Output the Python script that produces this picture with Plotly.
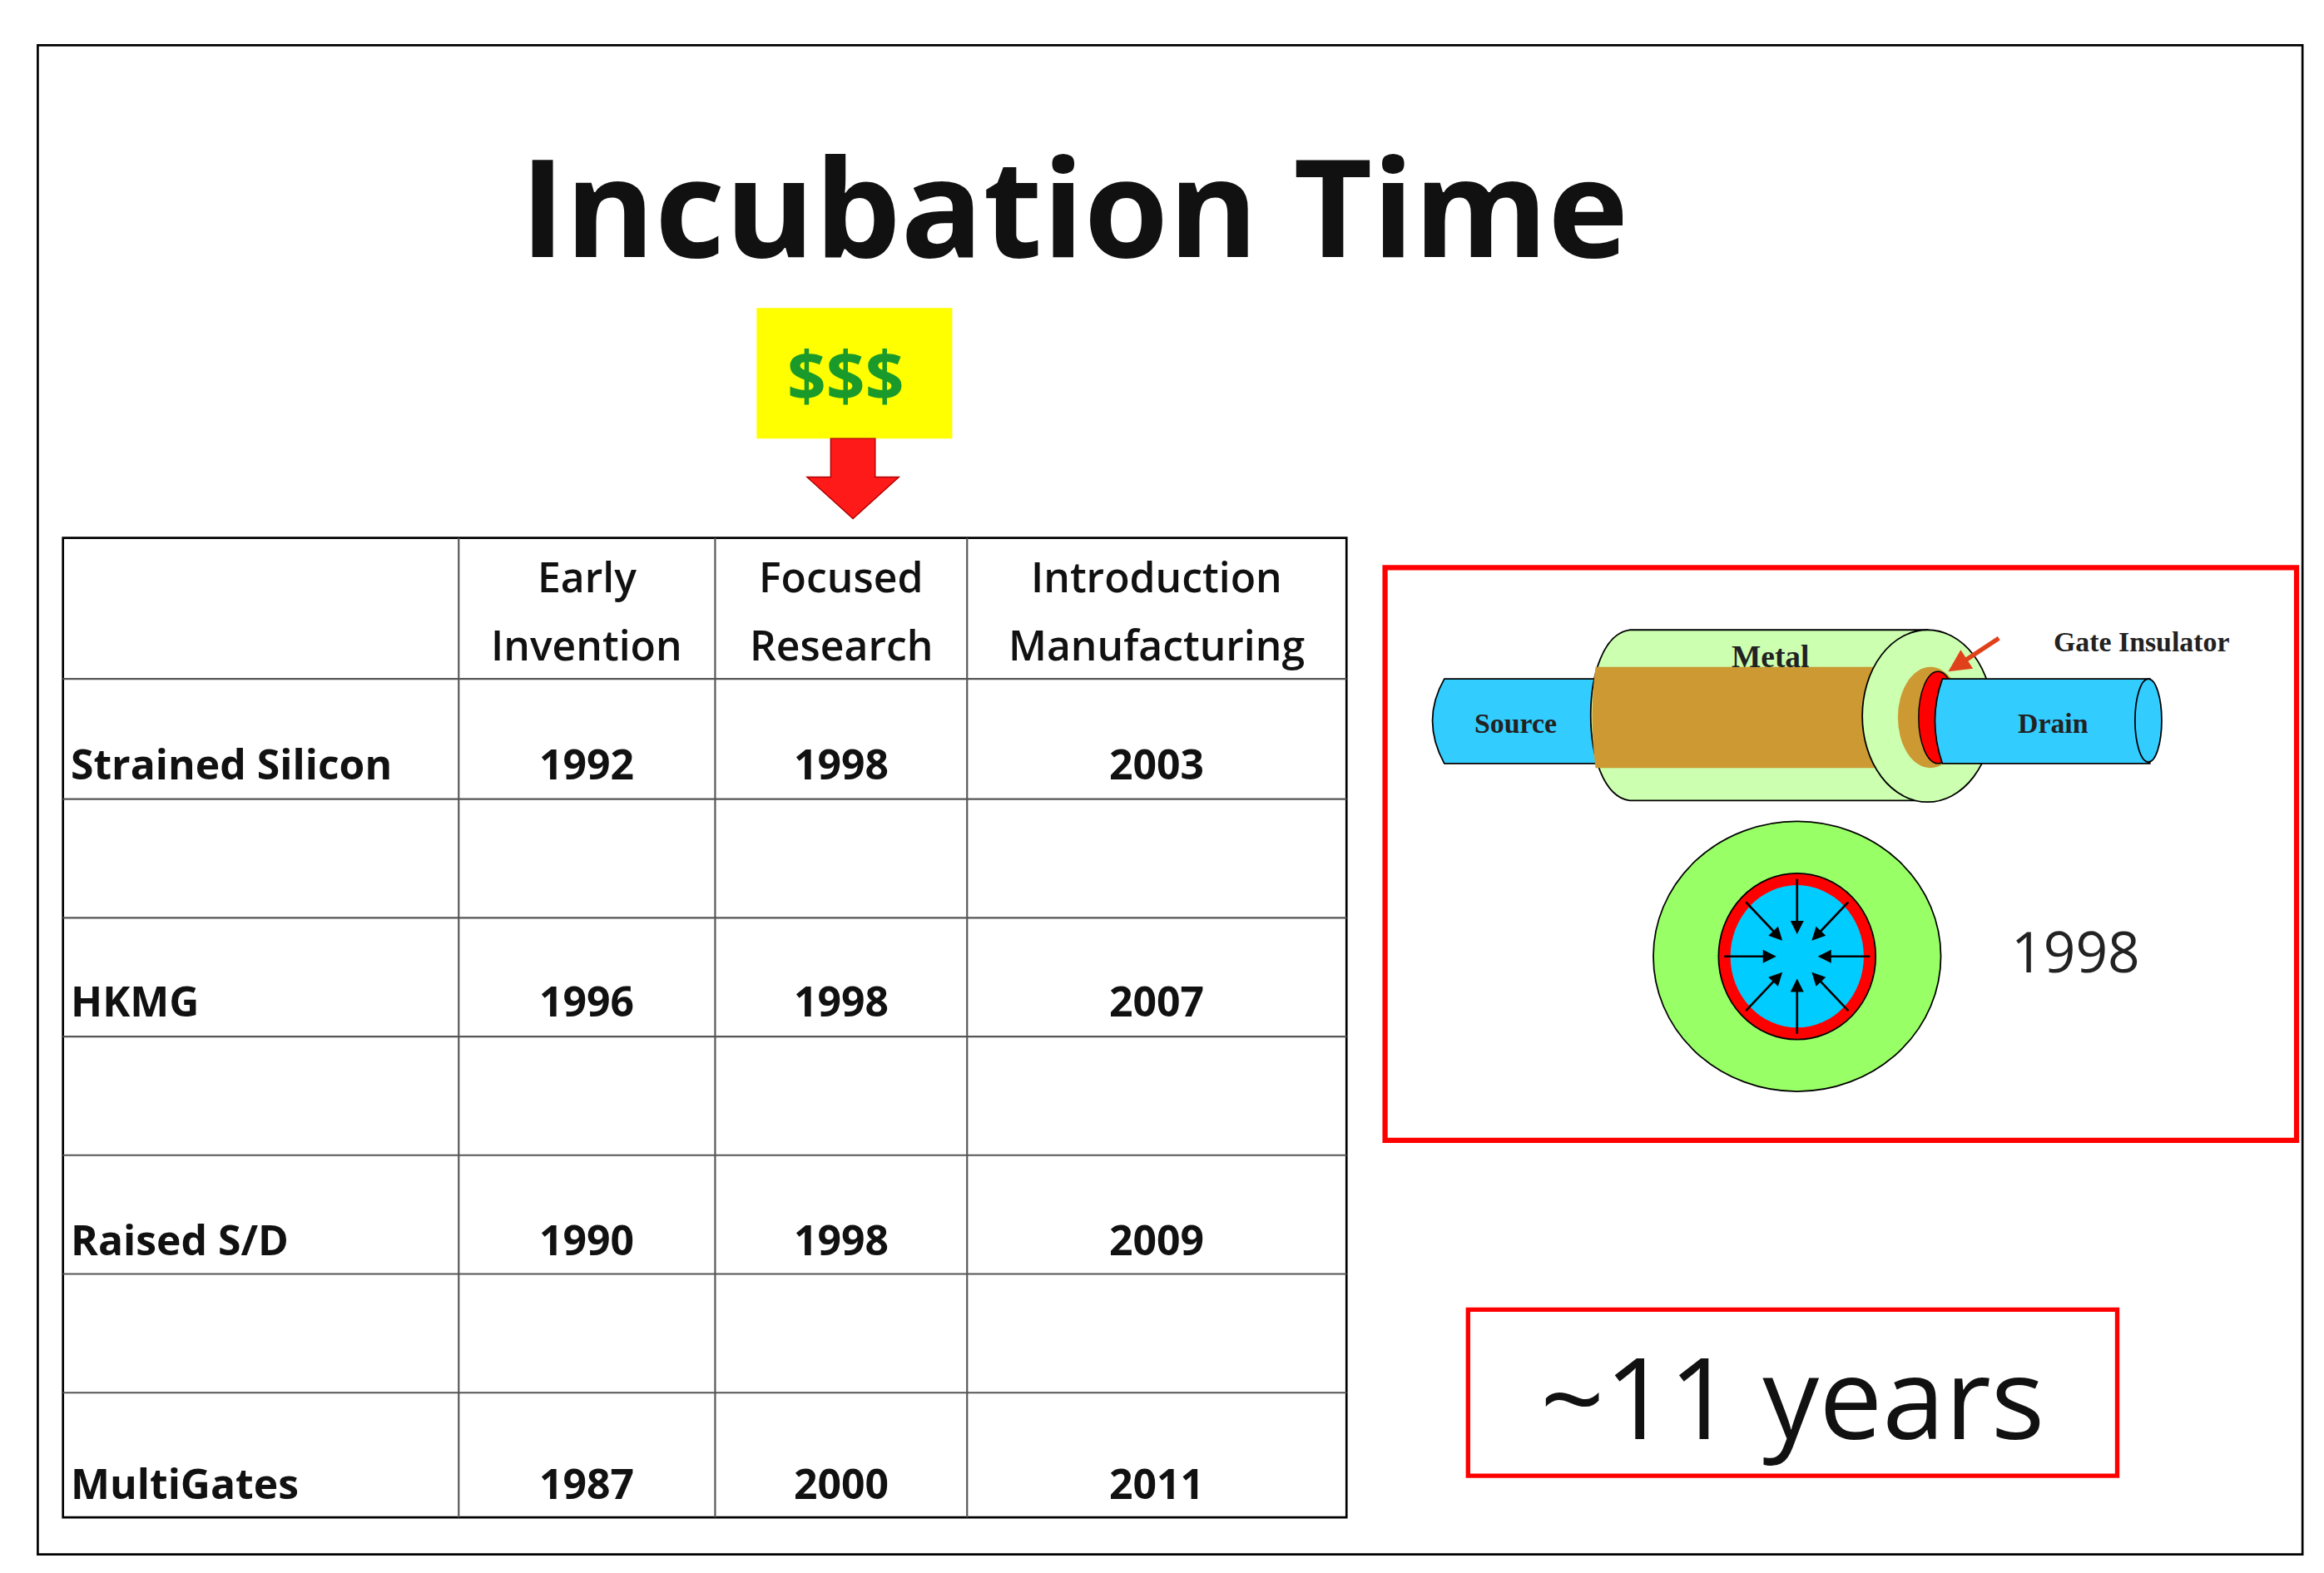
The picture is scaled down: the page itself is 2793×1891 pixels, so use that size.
import plotly.graph_objects as go
import math

rows = ["Strained Silicon", "HKMG", "Raised S/D", "MultiGates"]
early = ["1992", "1996", "1990", "1987"]
focused = ["1998", "1998", "1998", "2000"]
intro = ["2003", "2007", "2009", "2011"]
headers = [["Early", "Invention"], ["Focused", "Research"], ["Introduction", "Manufacturing"]]

W, H = 2793, 1891
s = W / 1568.0
fig = go.Figure()
fig.add_trace(go.Scatter(x=[0], y=[0], mode="markers", marker=dict(opacity=0), hoverinfo="skip"))
shapes, ann = [], []

def rect(x0, y0, x1, y1, line="black", lw=1.5, fill=None):
    shapes.append(dict(type="rect", x0=x0, y0=y0, x1=x1, y1=y1, xref="x", yref="y",
                       line=dict(color=line, width=lw * s) if line else dict(width=0),
                       fillcolor=fill))

def line(x0, y0, x1, y1, c="black", lw=1.2):
    shapes.append(dict(type="line", x0=x0, y0=y0, x1=x1, y1=y1, xref="x", yref="y",
                       line=dict(color=c, width=lw * s)))

def ell(cx, cy, rx, ry, fill, lc="black", lw=1):
    shapes.append(dict(type="circle", x0=cx - rx, x1=cx + rx, y0=cy - ry, y1=cy + ry, xref="x", yref="y",
                       fillcolor=fill, line=dict(color=lc, width=lw * s) if lc else dict(width=0)))

def path(p, fill, lc="black", lw=1):
    shapes.append(dict(type="path", path=p, xref="x", yref="y", fillcolor=fill,
                       line=dict(color=lc, width=lw * s) if lc else dict(width=0)))

def text(x, y, t, size, color="#111", weight=400, family="Open Sans", xanchor="center"):
    ann.append(dict(x=x, y=y, xref="x", yref="y", text=t, showarrow=False,
                    font=dict(size=size * s, color=color, family=family, weight=weight),
                    xanchor=xanchor, yanchor="middle"))

# frame
rect(21, 26, 1549, 1043, lw=1.5)
text(720, 133, "Incubation Time", 92, weight=700)
rect(506, 203, 638, 291, line=None, fill="#ffff00")
text(566, 248, "$$$", 46, color="#1a9a2a", weight=700)
path("M 556,291 L 586,291 L 586,317 L 602,317 L 571,345 L 540,317 L 556,317 Z", "#ff1a1a", lc="#b00000", lw=0.8)

# table
cols = [38, 305, 478, 648, 904]
rys = [358, 453, 534, 614, 694, 774, 854, 934, 1018]
rect(cols[0], rys[0], cols[-1], rys[-1], lw=1.5)
for x in cols[1:-1]:
    line(x, rys[0], x, rys[-1], "#555", 1.2)
for y in rys[1:-1]:
    line(cols[0], y, cols[-1], y, "#555", 1.2)
for i, hd in enumerate(headers):
    cx = (cols[i + 1] + cols[i + 2]) / 2
    text(cx, 384, hd[0], 28, weight=600)
    text(cx, 430, hd[1], 28, weight=600)
for i, r in enumerate(rows):
    y = [510, 670, 831, 995][i]
    text(42, y, r, 28, xanchor="left", weight=700)
    for j, v in enumerate([early[i], focused[i], intro[i]]):
        cx = (cols[j + 1] + cols[j + 2]) / 2
        text(cx, y, v, 28, weight=700)

# right red box
rect(930, 378, 1545, 764, line="#ff0000", lw=3.5)
# source
path("M 970,453 L 1090,453 L 1090,510 L 970,510 Q 954,481 970,453 Z", "#33ccff", lw=1)
# metal outer body
path("M 1095,420 L 1296,420 L 1296,535 L 1095,535 C 1060,530 1060,425 1095,420 Z", "#ccffb0", lw=1)
path("M 1072,445 L 1296,445 L 1296,513 L 1072,513 C 1069,490 1069,468 1072,445 Z", "#cc9933", lc=None)
ell(1296, 478, 44, 58, "#ccffb0", lw=1)
ell(1298, 479, 22, 34, "#cc9933", lc=None)
ell(1303, 479, 13, 31, "#ff0000", lc="black", lw=0.8)
path("M 1306,453 L 1446,453 L 1446,510 L 1306,510 Q 1296,481 1306,453 Z", "#33ccff", lw=1)
ell(1445, 481, 9, 28, "#33ccff", lw=1)
text(1190, 438, "Metal", 21, weight=700, family="Liberation Serif", color="#222")
text(1018, 483, "Source", 19, weight=700, family="Liberation Serif", color="#222")
text(1381, 483, "Drain", 19, weight=700, family="Liberation Serif", color="#222")
text(1440, 428, "Gate Insulator", 19, weight=700, family="Liberation Serif", color="#222")
ann.append(dict(x=1310, y=448, ax=1345, ay=425, xref="x", yref="y", axref="x", ayref="y", text="",
                showarrow=True, arrowhead=2, arrowsize=1, arrowwidth=3 * s, arrowcolor="#e0401a"))
# cross section
ell(1208, 640, 97, 91, "#99ff66", lw=1)
ell(1208, 640, 53, 56, "#ff0000", lw=1)
ell(1208, 640, 45, 48, "#00ccff", lc=None)
for k in range(8):
    a = k * math.pi / 4
    x0, y0 = 1208 + 50 * math.cos(a), 640 + 53 * math.sin(a)
    x1, y1 = 1208 + 14 * math.cos(a), 640 + 15 * math.sin(a)
    ann.append(dict(x=x1, y=y1, ax=x0, ay=y0, xref="x", yref="y", axref="x", ayref="y", text="",
                    showarrow=True, arrowhead=2, arrowsize=1.2, arrowwidth=1.5 * s, arrowcolor="black"))
text(1396, 636, "1998", 38, color="#222")

# years box
rect(986, 878, 1424, 990, line="#ff0000", lw=3)
text(1205, 936, "~11 years", 76, color="#111")

fig.update_layout(width=W, height=H, margin=dict(l=0, r=0, t=0, b=0), showlegend=False,
                  plot_bgcolor="white", paper_bgcolor="white", shapes=shapes, annotations=ann,
                  xaxis=dict(range=[0, 1568], visible=False, fixedrange=True),
                  yaxis=dict(range=[1060, 0], visible=False, fixedrange=True))
fig.write_html("out.html")
